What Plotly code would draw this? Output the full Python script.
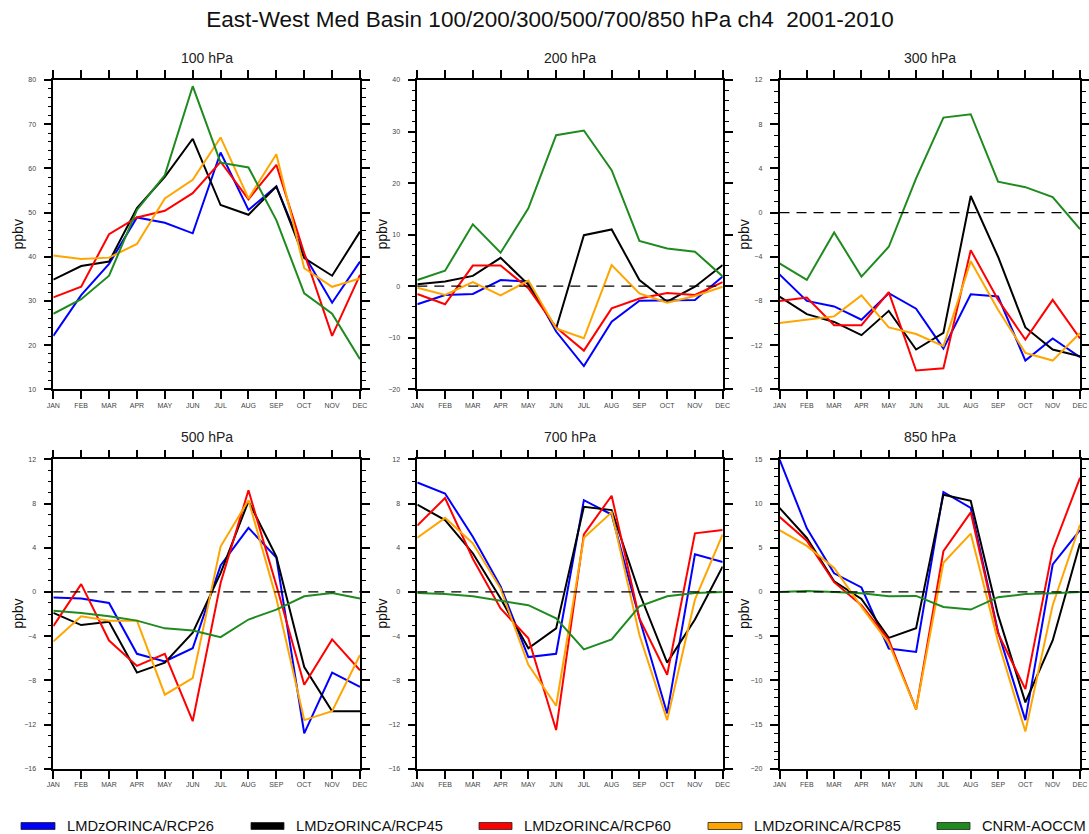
import plotly.graph_objects as go
from plotly.subplots import make_subplots

# ---------------- data ----------------
months = ["JAN", "FEB", "MAR", "APR", "MAY", "JUN", "JUL", "AUG", "SEP", "OCT", "NOV", "DEC"]
series_names = ["LMDzORINCA/RCP26", "LMDzORINCA/RCP45", "LMDzORINCA/RCP60",
                "LMDzORINCA/RCP85", "CNRM-AOCCM"]
series_colors = ["#0000FF", "#000000", "#FF0000", "#FFA500", "#1F8B1F"]
level_titles = ["100 hPa", "200 hPa", "300 hPa", "500 hPa", "700 hPa", "850 hPa"]
main_title = "East-West Med Basin 100/200/300/500/700/850 hPa ch4 \u00a02001-2010"
y_label = "ppbv"

hpa100_rcp26 = [22.1, 31.3, 38.4, 48.9, 47.7, 45.3, 63.6, 50.6, 55.9, 40.4, 29.6, 38.9]
hpa100_rcp45 = [34.8, 37.9, 38.9, 51.0, 58.1, 66.7, 51.7, 49.5, 55.9, 39.7, 35.7, 45.7]
hpa100_rcp60 = [30.8, 33.2, 45.1, 48.9, 50.4, 54.4, 61.5, 53.0, 60.8, 40.8, 22.1, 35.9]
hpa100_rcp85 = [40.3, 39.5, 39.8, 42.9, 53.2, 57.4, 67.0, 53.2, 63.2, 37.4, 33.2, 35.1]
hpa100_cnrm = [27.1, 30.4, 35.7, 50.6, 58.5, 78.6, 61.3, 60.2, 48.3, 31.7, 27.1, 16.8]

hpa200_rcp26 = [-3.5, -1.7, -1.5, 1.2, 0.9, -8.8, -15.5, -6.9, -2.8, -2.8, -2.7, 1.9]
hpa200_rcp45 = [0.4, 0.9, 2.0, 5.5, 0.3, -8.2, 9.9, 11.0, 1.2, -3.0, -0.1, 4.1]
hpa200_rcp60 = [-1.5, -3.5, 4.0, 4.0, -0.4, -8.0, -12.5, -4.3, -2.4, -1.3, -1.7, 0.8]
hpa200_rcp85 = [-0.3, -1.7, 0.8, -1.8, 1.1, -8.2, -10.1, 4.1, -1.4, -3.2, -1.9, -0.1]
hpa200_cnrm = [1.2, 3.0, 12.0, 6.5, 15.1, 29.3, 30.2, 22.5, 8.8, 7.3, 6.7, 1.9]

hpa300_rcp26 = [-5.6, -8.0, -8.5, -9.7, -7.3, -8.7, -12.3, -7.4, -7.6, -13.4, -11.4, -13.1]
hpa300_rcp45 = [-7.6, -9.2, -9.9, -11.1, -8.9, -12.4, -10.9, 1.5, -4.0, -10.4, -12.4, -13.0]
hpa300_rcp60 = [-8.0, -7.7, -10.2, -10.2, -7.2, -14.3, -14.1, -3.4, -7.9, -11.5, -7.9, -11.4]
hpa300_rcp85 = [-10.0, -9.7, -9.4, -7.5, -10.4, -11.0, -12.1, -4.4, -8.8, -12.7, -13.4, -10.9]
hpa300_cnrm = [-4.6, -6.1, -1.8, -5.8, -3.1, 3.1, 8.6, 8.9, 2.8, 2.3, 1.4, -1.5]

hpa500_rcp26 = [-0.5, -0.6, -1.0, -5.6, -6.3, -5.1, 2.4, 5.8, 3.1, -12.8, -7.3, -8.6]
hpa500_rcp45 = [-1.9, -3.0, -2.7, -7.3, -6.4, -3.7, 1.7, 8.2, 3.2, -6.8, -10.8, -10.8]
hpa500_rcp60 = [-3.1, 0.7, -4.4, -6.7, -5.6, -11.7, 0.8, 9.2, 0.6, -8.4, -4.3, -7.1]
hpa500_rcp85 = [-4.5, -2.2, -2.6, -2.6, -9.3, -7.8, 4.1, 8.3, -0.6, -11.6, -10.8, -5.7]
hpa500_cnrm = [-1.7, -1.9, -2.2, -2.6, -3.3, -3.5, -4.1, -2.5, -1.6, -0.4, -0.1, -0.6]

hpa700_rcp26 = [9.9, 8.9, 5.0, 0.5, -5.9, -5.6, 8.3, 7.0, -2.4, -11.0, 3.4, 2.7]
hpa700_rcp45 = [7.9, 6.5, 3.5, -0.6, -5.1, -3.3, 7.7, 7.4, -0.1, -6.4, -2.5, 2.3]
hpa700_rcp60 = [6.0, 8.5, 3.0, -1.5, -4.2, -12.5, 5.2, 8.7, -2.4, -7.5, 5.3, 5.6]
hpa700_rcp85 = [4.9, 6.7, 4.4, 0.3, -6.6, -10.3, 4.9, 7.2, -3.9, -11.6, -0.7, 5.2]
hpa700_cnrm = [-0.1, -0.2, -0.4, -0.8, -1.2, -2.4, -5.2, -4.3, -1.3, -0.4, -0.1, 0.0]

hpa850_rcp26 = [15.0, 7.2, 2.1, 0.5, -6.4, -6.8, 11.3, 9.5, -4.5, -14.5, 3.1, 7.0]
hpa850_rcp45 = [9.5, 6.1, 1.2, -0.8, -5.2, -4.1, 11.0, 10.3, -2.6, -12.5, -5.5, 5.5]
hpa850_rcp60 = [8.5, 5.8, 1.1, -1.5, -5.4, -13.3, 4.6, 9.0, -4.7, -11.0, 4.8, 12.9]
hpa850_rcp85 = [7.0, 5.2, 2.7, -1.7, -5.8, -13.3, 3.3, 6.6, -5.6, -15.8, -1.5, 7.6]
hpa850_cnrm = [0.0, 0.1, 0.0, -0.15, -0.5, -0.45, -1.7, -2.0, -0.6, -0.25, -0.15, 0.0]

panels = [
    [hpa100_rcp26, hpa100_rcp45, hpa100_rcp60, hpa100_rcp85, hpa100_cnrm],
    [hpa200_rcp26, hpa200_rcp45, hpa200_rcp60, hpa200_rcp85, hpa200_cnrm],
    [hpa300_rcp26, hpa300_rcp45, hpa300_rcp60, hpa300_rcp85, hpa300_cnrm],
    [hpa500_rcp26, hpa500_rcp45, hpa500_rcp60, hpa500_rcp85, hpa500_cnrm],
    [hpa700_rcp26, hpa700_rcp45, hpa700_rcp60, hpa700_rcp85, hpa700_cnrm],
    [hpa850_rcp26, hpa850_rcp45, hpa850_rcp60, hpa850_rcp85, hpa850_cnrm],
]
# y-axis ranges / tick steps per panel
y_ranges = [(10, 80), (-20, 40), (-16, 12), (-16, 12), (-16, 12), (-20, 15)]
y_major = [10, 10, 4, 4, 4, 5]
y_minor = [2, 2, 1, 1, 1, 1]

# ---------------- layout geometry (pixels) ----------------
W, H = 1089, 834
FONT = "Liberation Sans, Arial, Helvetica, sans-serif"
col_px = [(53.3, 360.0), (417.3, 722.7), (779.5, 1080.0)]
row_px = [(80.0, 389.3), (459.3, 768.7)]

fig = make_subplots(rows=2, cols=3)

for i, data in enumerate(panels):
    r, c = divmod(i, 3)
    for vals, name, color in zip(data, series_names, series_colors):
        fig.add_trace(go.Scatter(x=months, y=vals, mode="lines", name=name,
                                 line=dict(color=color, width=2),
                                 showlegend=False),
                      row=r + 1, col=c + 1)

    ax = "" if i == 0 else str(i + 1)
    x0, x1 = col_px[c]
    y0, y1 = row_px[r]
    fig.layout["xaxis" + ax].update(
        domain=[x0 / W, x1 / W], type="category", range=[0, 11],
        automargin=False,
        showline=True, linecolor="black", linewidth=1.6, mirror="allticks",
        ticks="outside", ticklen=8, tickwidth=1.8, tickcolor="black",
        showgrid=False, zeroline=False, tickangle=0,
        tickfont=dict(size=7, color="#444", family=FONT),
    )
    lo, hi = y_ranges[i]
    fig.layout["yaxis" + ax].update(
        domain=[1 - y1 / H, 1 - y0 / H], range=[lo, hi],
        automargin=False,
        tick0=lo, dtick=y_major[i],
        showline=True, linecolor="black", linewidth=1.6, mirror="allticks",
        ticks="outside", ticklen=8, tickwidth=1.8, tickcolor="black",
        minor=dict(ticks="outside", ticklen=4, tickwidth=1.2, tickcolor="black",
                   dtick=y_minor[i], tick0=lo, showgrid=False),
        showgrid=False, zeroline=False, ticklabelstandoff=6,
        tickfont=dict(size=7, color="#444", family=FONT),
    )
    if lo < 0 < hi:
        fig.add_hline(y=0, line=dict(color="black", width=1.2, dash="10px,7px"),
                      row=r + 1, col=c + 1)

    # panel title
    fig.add_annotation(text=level_titles[i], xref="paper", yref="paper",
                       x=(x0 + x1) / 2 / W, y=1 - (y0 - 22.5) / H,
                       xanchor="center", yanchor="middle", showarrow=False,
                       font=dict(size=14, color="#222", family=FONT))
    # y-axis label
    fig.add_annotation(text=y_label, xref="paper", yref="paper",
                       x=(x0 - 35.5) / W, y=1 - (y0 + y1) / 2 / H,
                       xanchor="center", yanchor="middle", textangle=-90,
                       showarrow=False,
                       font=dict(size=14, color="#111", family=FONT))

# ---------------- legend (boxes + text) ----------------
legend_box_px = [(21, 55), (251, 284), (479, 512), (708, 742), (937, 970)]
for (bx0, bx1), name, color in zip(legend_box_px, series_names, series_colors):
    fig.add_shape(type="rect", xref="paper", yref="paper",
                  x0=bx0 / W, x1=bx1 / W, y0=1 - 829.5 / H, y1=1 - 822.5 / H,
                  fillcolor=color, line=dict(color="#222", width=0.8))
    fig.add_annotation(text=name, xref="paper", yref="paper",
                       x=(bx1 + 10) / W, y=1 - 826 / H,
                       xanchor="left", yanchor="middle", showarrow=False,
                       font=dict(size=14.7, color="#111", family=FONT))

fig.update_layout(
    width=W, height=H,
    margin=dict(l=0, r=0, t=0, b=0, autoexpand=False),
    paper_bgcolor="white", plot_bgcolor="white",
    showlegend=False,
    title=dict(text=main_title, x=550 / W, xanchor="center",
               y=1 - 19.5 / H, yanchor="middle", automargin=False,
               font=dict(size=22.5, color="#111", family=FONT)),
)

fig.write_html("out.html")
